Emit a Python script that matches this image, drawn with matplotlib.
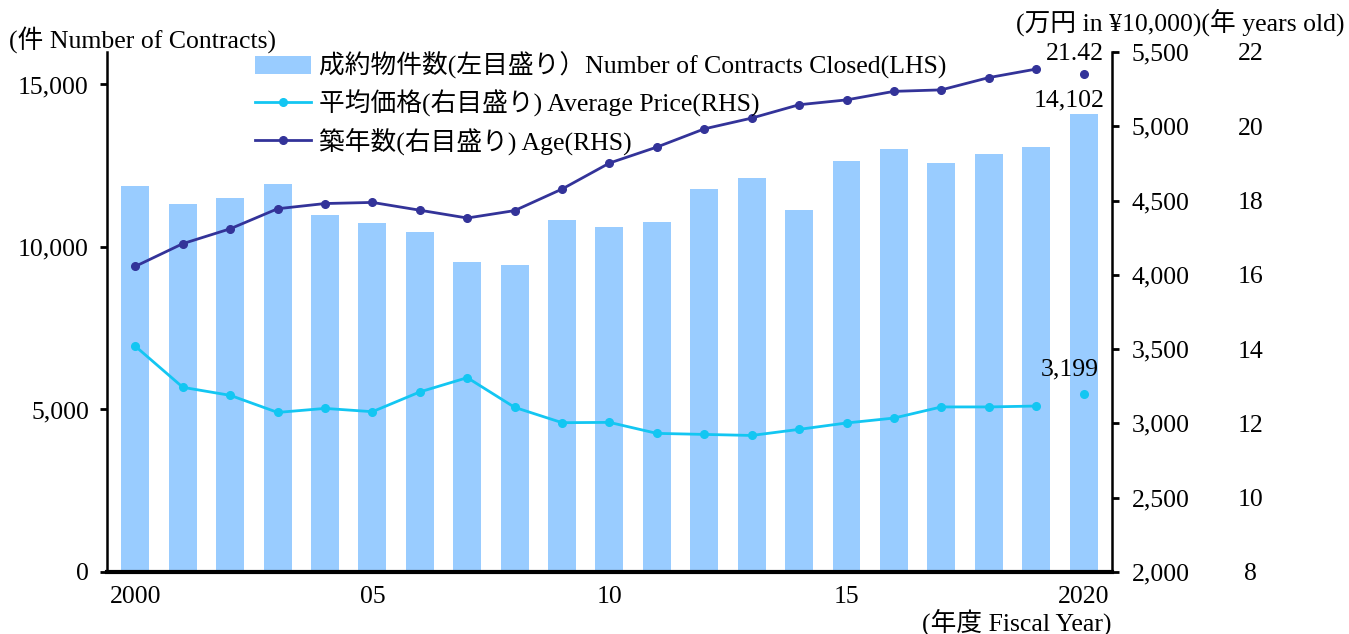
import numpy as np
import matplotlib
matplotlib.use("Agg")
import matplotlib.pyplot as plt

plt.rcParams['font.family'] = ['Liberation Serif', 'Noto Sans CJK JP', 'DejaVu Sans']
plt.rcParams['font.size'] = 18.5

years = list(range(2000, 2021))
contracts = [11862, 11309, 11494, 11924, 10971, 10725, 10449, 9527, 9434, 10817,
             10602, 10756, 11770, 12108, 11125, 12631, 13030, 12569, 12876, 13091, 14102]
price = [3519, 3243, 3189, 3074, 3101, 3079, 3212, 3308, 3108, 3005,
         3007, 2933, 2926, 2919, 2960, 3003, 3036, 3111, 3111, 3117, 3199]
age = [16.23, 16.84, 17.24, 17.78, 17.92, 17.95, 17.74, 17.53, 17.73, 18.31,
       19.01, 19.44, 19.93, 20.22, 20.58, 20.71, 20.94, 20.98, 21.31, 21.54, 21.42]
xlabels = ['2000', '05', '10', '15', '2020']

bar_c = '#99CCFF'
price_c = '#13C6F2'
age_c = '#333399'

x = np.arange(len(years))

fig = plt.figure(figsize=(13.49, 6.34), dpi=100)
ax = fig.add_axes([0.0793, 0.0978, 0.7450, 0.8202])
ax2 = ax.twinx()
ax3 = ax.twinx()

bars = ax.bar(x, contracts, width=0.59, color=bar_c, zorder=1)
ax.set_xlim(-0.6, 20.6)
ax.set_ylim(0, 16000)
ax.set_yticks([0, 5000, 10000, 15000])
ax.set_yticklabels(['0', '5,000', '10,000', '15,000'])
ax.set_xticks([0, 5, 10, 15, 20])
ax.set_xticklabels(xlabels)
ax.tick_params(axis='x', length=0, pad=10)
ax.tick_params(axis='y', length=5, width=2, pad=8, direction='out')
ax.spines['top'].set_visible(False)
ax.spines['right'].set_visible(False)
ax.spines['left'].set_linewidth(1.8)
ax.spines['bottom'].set_linewidth(3)

# price (right, first scale)
l1, = ax2.plot(x[:-1], price[:-1], color=price_c, lw=2, marker='o', ms=5.5)
ax2.plot(x[-1], price[-1], color=price_c, marker='o', ms=5.5, ls='none')
ax2.set_ylim(2000, 5500)
ax2.set_yticks(np.arange(2000, 5501, 500))
ax2.set_yticklabels([f'{v:,}' for v in range(2000, 5501, 500)])
ax2.tick_params(axis='y', length=5, width=2, pad=9, direction='out')
for s in ['top', 'left', 'bottom']:
    ax2.spines[s].set_visible(False)
ax2.spines['right'].set_linewidth(1.8)

# age (right, second scale)
l2, = ax3.plot(x[:-1], age[:-1], color=age_c, lw=2, marker='o', ms=5.5)
ax3.plot(x[-1], age[-1], color=age_c, marker='o', ms=5.5, ls='none')
ax3.set_ylim(8, 22)
ax3.set_yticks(np.arange(8, 23, 2))
ax3.tick_params(axis='y', length=0, pad=100)
for lab in ax3.get_yticklabels():
    lab.set_horizontalalignment('center')
for s in ax3.spines.values():
    s.set_visible(False)

ax3.annotate('21.42', (x[-1], age[-1]), xytext=(20, 20), textcoords='offset pixels',
             ha='right', va='center')
ax.annotate(f'{contracts[-1]:,}', (x[-1], contracts[-1]), xytext=(21, 2),
            textcoords='offset pixels', ha='right', va='bottom')
ax2.annotate(f'{price[-1]:,}', (x[-1], price[-1]), xytext=(15, 24),
             textcoords='offset pixels', ha='right', va='center')

fig.text(0.007, 0.937, '(件 Number of Contracts)', ha='left', va='center')
fig.text(0.997, 0.965, '(万円 in ¥10,000)(年 years old)', ha='right', va='center')
fig.text(0.824, 0.019, '(年度 Fiscal Year)', ha='right', va='center')

ax3.legend([bars, l1, l2],
           ['成約物件数(左目盛り）Number of Contracts Closed(LHS)',
            '平均価格(右目盛り) Average Price(RHS)',
            '築年数(右目盛り) Age(RHS)'],
           loc='upper left', bbox_to_anchor=(0.137, 1.02), frameon=False,
           handlelength=2.2, handletextpad=0.3, labelspacing=0.4, borderaxespad=0)

fig.savefig('out.png', dpi=100)
